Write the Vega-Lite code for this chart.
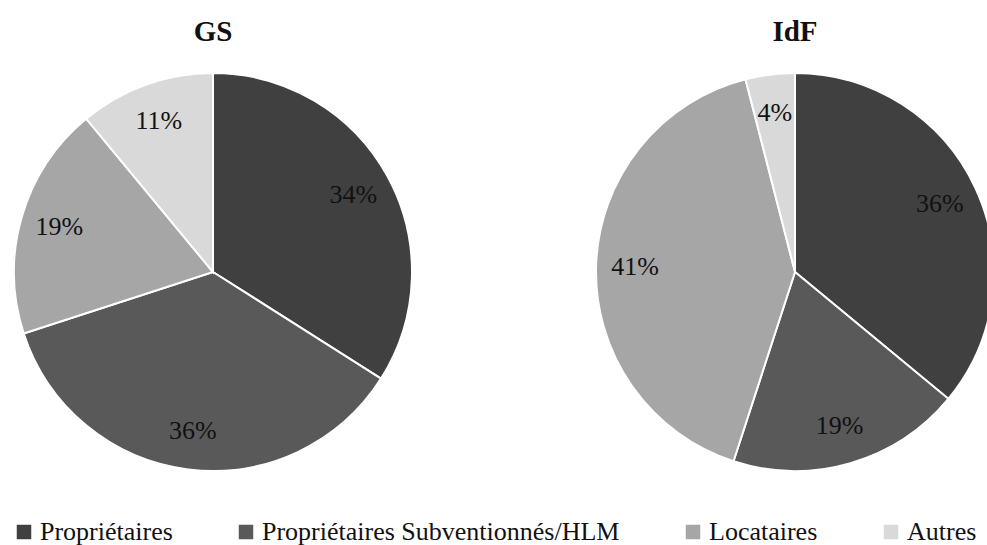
{
  "$schema": "https://vega.github.io/schema/vega-lite/v6.json",
  "width": 987,
  "height": 545,
  "autosize": {"type": "none"},
  "padding": 0,
  "background": "white",
  "config": {"view": {"stroke": null}, "font": "Liberation Serif", "text": {"font": "Liberation Serif"}, "legend": {"labelFont": "Liberation Serif"}},
  "data": {
    "values": [
      {"region": "GS", "category": "Propriétaires", "k": 1, "value": 34, "label": "34%"},
      {"region": "GS", "category": "Propriétaires Subventionnés/HLM", "k": 2, "value": 36, "label": "36%"},
      {"region": "GS", "category": "Locataires", "k": 3, "value": 19, "label": "19%"},
      {"region": "GS", "category": "Autres", "k": 4, "value": 11, "label": "11%"},
      {"region": "IdF", "category": "Propriétaires", "k": 1, "value": 36, "label": "36%"},
      {"region": "IdF", "category": "Propriétaires Subventionnés/HLM", "k": 2, "value": 19, "label": "19%"},
      {"region": "IdF", "category": "Locataires", "k": 3, "value": 41, "label": "41%"},
      {"region": "IdF", "category": "Autres", "k": 4, "value": 4, "label": "4%"}
    ]
  },
  "encoding": {
    "color": {
      "field": "category",
      "type": "nominal",
      "scale": {
        "domain": ["Propriétaires", "Propriétaires Subventionnés/HLM", "Locataires", "Autres"],
        "range": ["#404040", "#595959", "#a6a6a6", "#d9d9d9"]
      },
      "legend": {
        "orient": "none",
        "legendX": 11,
        "legendY": 519,
        "direction": "horizontal",
        "title": null,
        "padding": 0,
        "symbolType": "square",
        "symbolSize": 210,
        "symbolStrokeWidth": 0,
        "labelFontSize": 26,
        "labelFont": "Liberation Serif",
        "labelColor": "#111111",
        "labelLimit": 500,
        "labelOffset": 3,
        "columnPadding": 60,
        "symbolOffset": 0
      }
    }
  },
  "layer": [
    {
      "transform": [{"filter": "datum.region === 'GS'"}],
      "mark": {"type": "arc", "outerRadius": 199, "stroke": "white", "strokeWidth": 2},
      "encoding": {
        "x": {"datum": "GS", "type": "nominal", "scale": {"type": "point", "padding": 0, "domain": ["GS", "IdF"], "range": [213, 795]}, "axis": null},
        "y": {"datum": "pie", "type": "nominal", "scale": {"type": "point", "padding": 0, "domain": ["title", "pie"], "range": [32, 272]}, "axis": null},
        "theta": {"field": "value", "type": "quantitative", "stack": true},
        "order": {"field": "k", "type": "quantitative"}
      }
    },
    {
      "transform": [{"filter": "datum.region === 'IdF'"}],
      "mark": {"type": "arc", "outerRadius": 199, "stroke": "white", "strokeWidth": 2},
      "encoding": {
        "x": {"datum": "IdF", "type": "nominal", "axis": null},
        "y": {"datum": "pie", "type": "nominal", "axis": null},
        "theta": {"field": "value", "type": "quantitative", "stack": true},
        "order": {"field": "k", "type": "quantitative"}
      }
    },
    {
      "transform": [{"filter": "datum.region === 'GS'"}],
      "mark": {"type": "text", "radius": 160, "fontSize": 26, "font": "Liberation Serif", "baseline": "middle", "align": "center"},
      "encoding": {
        "x": {"datum": "GS", "type": "nominal", "axis": null},
        "y": {"datum": "pie", "type": "nominal", "axis": null},
        "theta": {"field": "value", "type": "quantitative", "stack": true},
        "order": {"field": "k", "type": "quantitative"},
        "text": {"field": "label"},
        "color": {"value": "#111111"}
      }
    },
    {
      "transform": [{"filter": "datum.region === 'IdF'"}],
      "mark": {"type": "text", "radius": 160, "fontSize": 26, "font": "Liberation Serif", "baseline": "middle", "align": "center"},
      "encoding": {
        "x": {"datum": "IdF", "type": "nominal", "axis": null},
        "y": {"datum": "pie", "type": "nominal", "axis": null},
        "theta": {"field": "value", "type": "quantitative", "stack": true},
        "order": {"field": "k", "type": "quantitative"},
        "text": {"field": "label"},
        "color": {"value": "#111111"}
      }
    },
    {
      "transform": [{"filter": "datum.k === 1"}],
      "mark": {"type": "text", "fontSize": 29, "font": "Liberation Serif", "fontWeight": "bold", "baseline": "middle", "align": "center"},
      "encoding": {
        "x": {"field": "region", "type": "nominal", "axis": null},
        "y": {"datum": "title", "type": "nominal", "axis": null},
        "text": {"field": "region"},
        "color": {"value": "#111111"}
      }
    }
  ]
}
